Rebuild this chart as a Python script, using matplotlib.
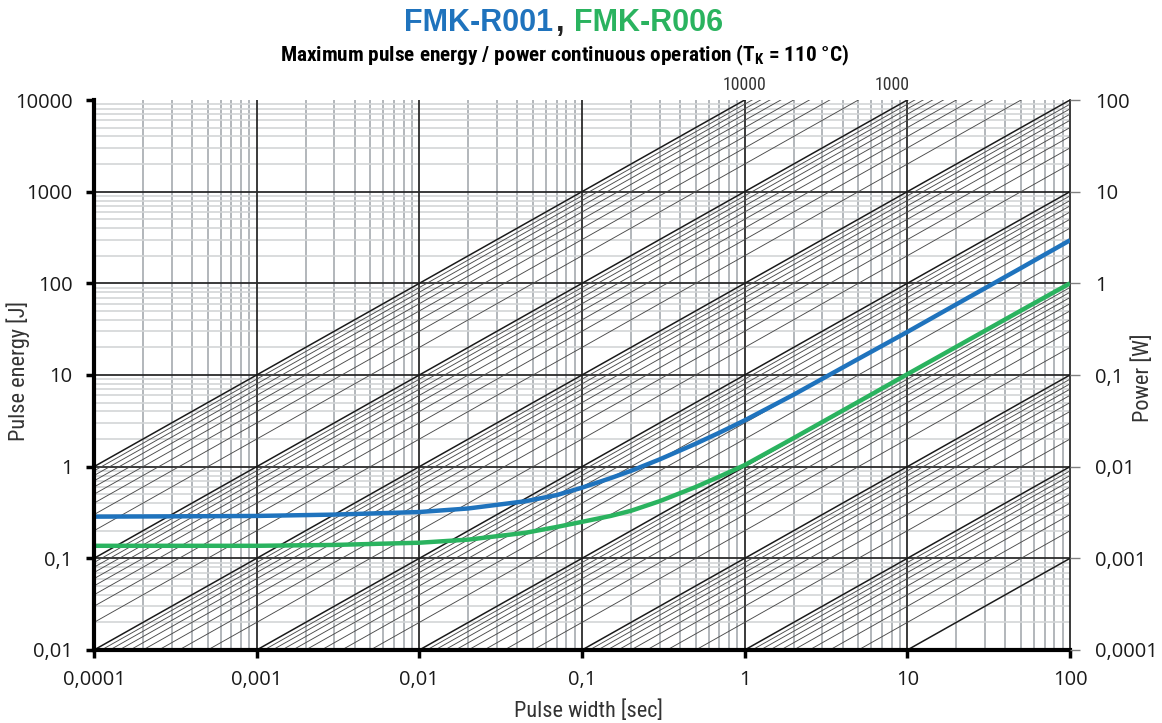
import numpy as np
import matplotlib
matplotlib.use("Agg")
import matplotlib.pyplot as plt
from matplotlib import font_manager as fm
from matplotlib.ticker import FixedLocator, FixedFormatter, NullLocator

# ---------------- data ----------------
pulse_width = [1e-4, 3e-4, 1e-3, 3e-3, 0.01, 0.02, 0.045, 0.07, 0.1, 0.15,
               0.2, 0.3, 0.5, 0.7, 1, 2, 5, 10, 20, 50, 100]
energy_r001 = [0.285, 0.287, 0.29, 0.30, 0.32, 0.35, 0.42, 0.49, 0.59, 0.75,
               0.90, 1.20, 1.78, 2.35, 3.2, 6.1, 15.0, 29.5, 59, 147, 295]
energy_r006 = [0.137, 0.137, 0.137, 0.14, 0.148, 0.16, 0.19, 0.22, 0.25, 0.29,
               0.33, 0.42, 0.60, 0.78, 1.04, 2.05, 5.1, 10.2, 20.3, 50.5, 100]

x_ticks = [1e-4, 1e-3, 1e-2, 1e-1, 1, 10, 100]
x_tick_labels = ["0,0001", "0,001", "0,01", "0,1", "1", "10", "100"]
y_ticks = [0.01, 0.1, 1, 10, 100, 1000, 10000]
y_tick_labels = ["0,01", "0,1", "1", "10", "100", "1000", "10000"]
power_ticks = [1e-4, 1e-3, 1e-2, 1e-1, 1, 10, 100]
power_tick_labels = ["0,0001", "0,001", "0,01", "0,1", "1", "10", "100"]

# constant-power reference lines E = P * t
power_decades = [0.001, 0.01, 0.1, 1, 10, 100, 1000]
power_multipliers = [1, 2, 3, 4, 5, 6, 7, 8, 9]
power_max = 10000
power_line_labels = ["10000", "1000"]
power_line_label_values = [10000, 1000]

BLUE = "#1f73bd"
GREEN = "#2ab35f"


def has_font(name):
    try:
        fm.findfont(fm.FontProperties(family=name), fallback_to_default=False)
        return True
    except Exception:
        return False


condensed = None
for cand in ["Roboto Condensed", "Liberation Sans Narrow", "Open Sans Condensed"]:
    if has_font(cand):
        condensed = cand
        break
if condensed:
    NARROW = [condensed, "DejaVu Sans"]
    narrow_scale = 1.0
else:
    NARROW = ["Roboto", "DejaVu Sans"]
    narrow_scale = 0.86

REG = ["Open Sans", "DejaVu Sans"]
plt.rcParams["font.family"] = REG

# ---------------- figure ----------------
W, H = 1162, 723
fig = plt.figure(figsize=(W / 100, H / 100), dpi=100)
ax = fig.add_axes([94 / W, 1 - 650 / H, 976 / W, 550 / H])
ax.set_xscale("log")
ax.set_yscale("log")
xmin, xmax = x_ticks[0], x_ticks[-1]
ymin, ymax = y_ticks[0], y_ticks[-1]
ax.set_xlim(xmin, xmax)
ax.set_ylim(ymin, ymax)

# grid (drawn from tick lists)
minor_x = [d * m for d in x_ticks[:-1] for m in power_multipliers[1:]]
minor_y = [d * m for d in y_ticks[:-1] for m in power_multipliers[1:]]
for v in minor_x:
    ax.axvline(v, color="#a6aaaf", lw=1.2, zorder=1)
for v in minor_y:
    ax.axhline(v, color="#d3d5d7", lw=1.2, zorder=1)
for v in x_ticks[1:-1]:
    ax.axvline(v, color="#2b2b2b", lw=1.3, zorder=2)
for v in y_ticks[1:-1]:
    ax.axhline(v, color="#2b2b2b", lw=1.3, zorder=2)

# constant-power diagonals
tt = np.array([xmin, xmax])
for dec in power_decades:
    for m in power_multipliers:
        p = dec * m
        if m == 1:
            ax.plot(tt, p * tt, color="#1a1a1a", lw=1.1, zorder=3)
        else:
            ax.plot(tt, p * tt, color="#4a4a4a", lw=0.65, zorder=3)
ax.plot(tt, power_max * tt, color="#1a1a1a", lw=1.1, zorder=3)

# curves
ax.plot(pulse_width, energy_r001, color=BLUE, lw=3.2, zorder=5,
        solid_capstyle="butt", solid_joinstyle="round")
ax.plot(pulse_width, energy_r006, color=GREEN, lw=3.2, zorder=5,
        solid_capstyle="butt", solid_joinstyle="round")

# spines
ax.spines["top"].set_visible(False)
ax.spines["left"].set_linewidth(3.0)
ax.spines["bottom"].set_linewidth(3.0)
ax.spines["right"].set_linewidth(1.3)
ax.spines["right"].set_color("#2b2b2b")
ax.spines["left"].set_zorder(6)
ax.spines["bottom"].set_zorder(6)

ax.xaxis.set_major_locator(FixedLocator(x_ticks))
ax.xaxis.set_major_formatter(FixedFormatter(x_tick_labels))
ax.xaxis.set_minor_locator(NullLocator())
ax.yaxis.set_major_locator(FixedLocator(y_ticks))
ax.yaxis.set_major_formatter(FixedFormatter(y_tick_labels))
ax.yaxis.set_minor_locator(NullLocator())
ax.tick_params(axis="both", which="major", direction="out", length=5.5,
               width=2.5, color="black", labelsize=14.5, labelcolor="#1a1a1a")
ax.tick_params(axis="x", pad=9)
ax.tick_params(axis="y", pad=10)

# right axis (power)
ax2 = ax.twinx()
ax2.set_yscale("log")
ax2.set_ylim(power_ticks[0], power_ticks[-1])
ax2.yaxis.set_major_locator(FixedLocator(power_ticks))
ax2.yaxis.set_major_formatter(FixedFormatter(power_tick_labels))
ax2.yaxis.set_minor_locator(NullLocator())
ax2.tick_params(axis="y", which="major", direction="out", length=7,
                width=1.0, color="#808080", labelsize=14.5, pad=11,
                labelcolor="#1a1a1a")
for s in ["top", "left", "bottom", "right"]:
    ax2.spines[s].set_visible(False)

# labels on constant-power lines (at the top edge)
label_offsets = [0, -11]
for txt, pval, dx in zip(power_line_labels, power_line_label_values, label_offsets):
    ax.annotate(txt, xy=(ymax / pval, ymax), xycoords="data",
                xytext=(dx, 4), textcoords="offset points",
                ha="center", va="bottom", fontsize=12.8 * narrow_scale,
                color="#333333", family=NARROW, annotation_clip=False)

# axis titles
fs_lab = 16 * narrow_scale
fig.text(18 / W, 1 - 371 / H, "Pulse energy [J]", rotation=90, ha="center",
         va="center", fontsize=fs_lab, family=NARROW, color="#333333")
fig.text(1143 / W, 1 - 378 / H, "Power [W]", rotation=90, ha="center",
         va="center", fontsize=fs_lab, family=NARROW, color="#333333")
fig.text(588 / W, 1 - 711 / H, "Pulse width [sec]", ha="center",
         va="center", fontsize=fs_lab, family=NARROW, color="#333333")

# title
TITLE_FONT = ["Liberation Sans", "DejaVu Sans"]
ty = 1 - 23 / H
fig.text(553 / W, ty, "FMK-R001", ha="right", va="center", fontsize=22,
         fontweight="bold", color=BLUE, family=TITLE_FONT)
fig.text(560 / W, ty, ",", ha="center", va="center", fontsize=22,
         fontweight="bold", color="#222222", family=TITLE_FONT)
fig.text(574 / W, ty, "FMK-R006", ha="left", va="center", fontsize=22,
         fontweight="bold", color=GREEN, family=TITLE_FONT)
fig.text(565 / W, 1 - 55 / H,
         r"Maximum pulse energy / power continuous operation ($\mathregular{T_K}$ = 110 °C)",
         ha="center", va="center", fontsize=15.3 * narrow_scale, fontweight="bold",
         color="black", family=NARROW)

fig.savefig("out.png", dpi=100)
